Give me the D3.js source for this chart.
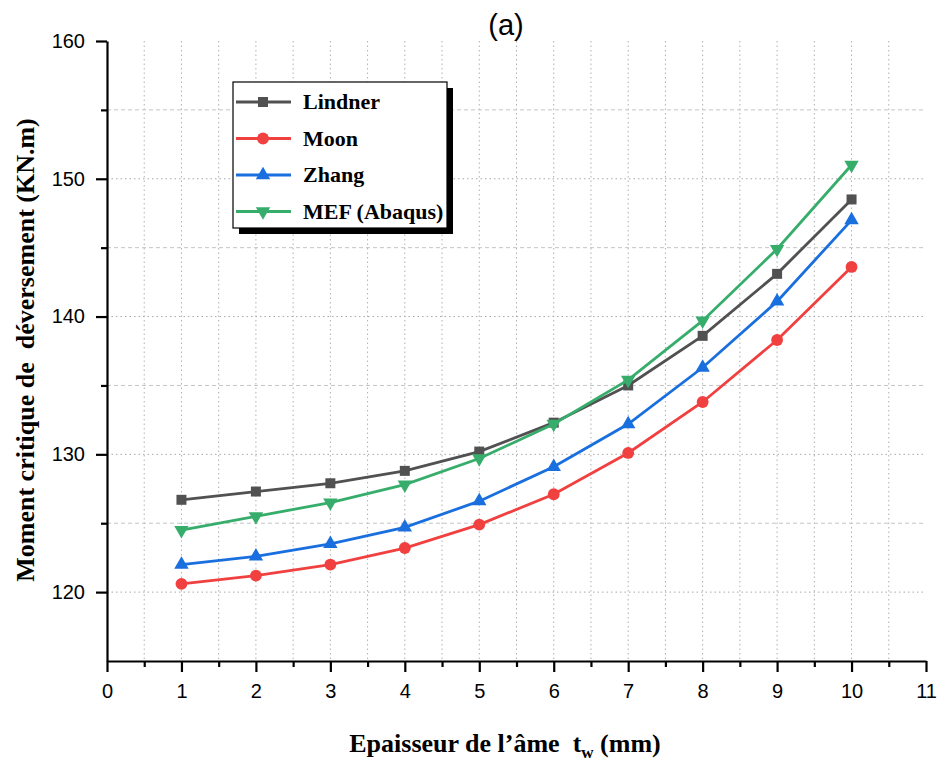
<!DOCTYPE html>
<html>
<head>
<meta charset="utf-8">
<script src="https://cdn.jsdelivr.net/npm/d3@7"></script>
<style>
  body { margin: 0; background: #fff; }
  svg { display: block; }
  .tick-label { font-family: "Liberation Sans", Arial, sans-serif; font-size: 20px; }
  .axis-title { font-family: "Liberation Serif", "Times New Roman", serif; font-weight: bold; font-size: 26px; white-space: pre; }
  .legend-text { font-family: "Liberation Serif", "Times New Roman", serif; font-weight: bold; font-size: 22px; }
</style>
</head>
<body>
<svg id="chart" width="938" height="763"></svg>
<script>
// thickness of web (mm)
var thickness = [1, 2, 3, 4, 5, 6, 7, 8, 9, 10];

// critical moment (KN.m)
var lindner = [126.7, 127.3, 127.9, 128.8, 130.2, 132.3, 135.0, 138.6, 143.1, 148.5];
var moon    = [120.6, 121.2, 122.0, 123.2, 124.9, 127.1, 130.1, 133.8, 138.3, 143.6];
var zhang   = [122.0, 122.6, 123.5, 124.7, 126.6, 129.1, 132.2, 136.3, 141.1, 147.0];
var mef     = [124.5, 125.5, 126.5, 127.8, 129.7, 132.2, 135.4, 139.7, 144.9, 151.0];

var seriesNames = ["Lindner", "Moon", "Zhang", "MEF (Abaqus)"];
var xTicks = [0, 1, 2, 3, 4, 5, 6, 7, 8, 9, 10, 11];
var yTicks = [120, 130, 140, 150, 160];

var series = [
	{ name: seriesNames[0], values: lindner, color: "#515151", symbol: "square" },
	{ name: seriesNames[1], values: moon,    color: "#F14040", symbol: "circle" },
	{ name: seriesNames[2], values: zhang,   color: "#1A6FDF", symbol: "up" },
	{ name: seriesNames[3], values: mef,     color: "#37AD6B", symbol: "down" }
];

var svg = d3.select("#chart");

var x = d3.scaleLinear().domain([0, 11]).range([107, 926]);
var y = d3.scaleLinear().domain([115, 160]).range([661, 41]);

var gridG = svg.append("g");

// vertical grid every half unit
d3.range(0.5, 11, 0.5).forEach(function(v) {
	gridG.append("line")
		.attr("x1", x(v)).attr("x2", x(v))
		.attr("y1", y(160)).attr("y2", y(115))
		.attr("stroke", "#b0b0b0").attr("stroke-width", 1)
		.attr("stroke-dasharray", "1.5,3");
});
// horizontal grid: majors dotted, minors dashed
d3.range(120, 160, 5).forEach(function(v) {
	var major = v % 10 === 0;
	gridG.append("line")
		.attr("x1", x(0)).attr("x2", x(11))
		.attr("y1", y(v)).attr("y2", y(v))
		.attr("stroke", major ? "#a8a8a8" : "#c4c4c4").attr("stroke-width", 1)
		.attr("stroke-dasharray", major ? "1.5,3" : "4,3");
});

// axes
var xAxis = d3.axisBottom(x).tickValues(xTicks).tickSizeInner(11).tickSizeOuter(0).tickPadding(12);
var yAxis = d3.axisLeft(y).tickValues(yTicks).tickSizeInner(11).tickSizeOuter(0).tickPadding(11);

var xg = svg.append("g").attr("transform", "translate(0," + y(115) + ")").call(xAxis);
var yg = svg.append("g").attr("transform", "translate(" + x(0) + ",0)").call(yAxis);

[xg, yg].forEach(function(g) {
	g.select(".domain").attr("stroke", "#000").attr("stroke-width", 2.2);
	g.selectAll(".tick line").attr("stroke", "#000").attr("stroke-width", 2.2);
	g.selectAll(".tick text").attr("class", "tick-label").attr("fill", "#000");
});

// minor ticks
var xMinor = d3.axisBottom(x).tickValues(d3.range(0.5, 11, 1)).tickSizeInner(6).tickSizeOuter(0).tickFormat("");
var yMinor = d3.axisLeft(y).tickValues(d3.range(125, 160, 10)).tickSizeInner(6).tickSizeOuter(0).tickFormat("");
svg.append("g").attr("transform", "translate(0," + y(115) + ")").call(xMinor)
	.call(function(g) { g.select(".domain").remove(); g.selectAll("line").attr("stroke", "#000").attr("stroke-width", 2.2); });
svg.append("g").attr("transform", "translate(" + x(0) + ",0)").call(yMinor)
	.call(function(g) { g.select(".domain").remove(); g.selectAll("line").attr("stroke", "#000").attr("stroke-width", 2.2); });

function symbolPath(kind) {
	if (kind === "square") return d3.symbol().type(d3.symbolSquare).size(100)();
	if (kind === "circle") return d3.symbol().type(d3.symbolCircle).size(110)();
	return d3.symbol().type(d3.symbolTriangle).size(90)();
}
function symbolTransform(kind, px, py) {
	if (kind === "down") return "translate(" + px + "," + py + ") rotate(180)";
	return "translate(" + px + "," + py + ")";
}

var line = d3.line()
	.x(function(d, i) { return x(thickness[i]); })
	.y(function(d) { return y(d); });

var plotG = svg.append("g");
series.forEach(function(s) {
	var g = plotG.append("g");
	g.append("path")
		.attr("d", line(s.values))
		.attr("fill", "none")
		.attr("stroke", s.color)
		.attr("stroke-width", 2.8);
	g.selectAll("path.mark").data(s.values).enter().append("path")
		.attr("class", "mark")
		.attr("d", symbolPath(s.symbol))
		.attr("transform", function(d, i) { return symbolTransform(s.symbol, x(thickness[i]), y(d)); })
		.attr("fill", s.color);
});

// legend
var lg = svg.append("g").attr("transform", "translate(233,82)");
lg.append("rect").attr("x", 6).attr("y", 6).attr("width", 214).attr("height", 146).attr("fill", "#000");
lg.append("rect").attr("x", 0).attr("y", 0).attr("width", 214).attr("height", 146)
	.attr("fill", "#fff").attr("stroke", "#000").attr("stroke-width", 1.2);
series.forEach(function(s, i) {
	var ry = 20 + i * 36.5;
	lg.append("line").attr("x1", 3).attr("x2", 58).attr("y1", ry).attr("y2", ry)
		.attr("stroke", s.color).attr("stroke-width", 2.8);
	lg.append("path").attr("d", symbolPath(s.symbol))
		.attr("transform", symbolTransform(s.symbol, 30, ry))
		.attr("fill", s.color);
	lg.append("text").attr("class", "legend-text")
		.attr("x", 70).attr("y", ry + 7).text(s.name);
});

// title
svg.append("text")
	.attr("x", 506).attr("y", 35)
	.attr("text-anchor", "middle")
	.style("font-family", "Liberation Sans, Arial, sans-serif")
	.style("font-size", "29px")
	.text("(a)");

// axis titles
var xt = svg.append("text").attr("class", "axis-title")
	.attr("x", 505).attr("y", 752).attr("text-anchor", "middle");
xt.append("tspan").text("Epaisseur de l\u2019\u00e2me  t");
xt.append("tspan").attr("dy", 6).style("font-size", "17px").text("w");
xt.append("tspan").attr("dy", -6).text(" (mm)");

svg.append("text").attr("class", "axis-title")
	.attr("transform", "translate(34,350) rotate(-90)")
	.attr("text-anchor", "middle")
	.text("Moment critique de  d\u00e9versement (KN.m)");
</script>
</body>
</html>
